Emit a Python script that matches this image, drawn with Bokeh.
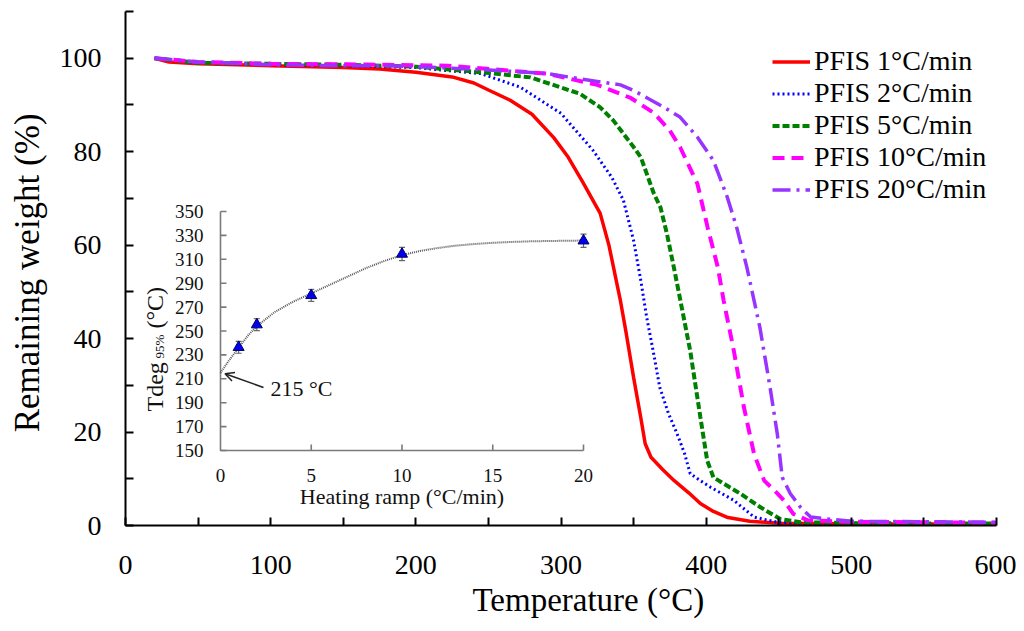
from bokeh.plotting import figure
from bokeh.models import Range1d, FixedTicker, Arrow, OpenHead, Title
from bokeh.core.properties import value
from bokeh.embed import file_html
from bokeh.resources import INLINE

# ---------------- data: main TGA curves ----------------
series_names = ["PFIS 1°C/min", "PFIS 2°C/min", "PFIS 5°C/min", "PFIS 10°C/min", "PFIS 20°C/min"]

temp_1 = [20, 30, 50, 100, 150, 175, 200, 225, 240, 250, 265, 280, 295, 305, 315, 327, 333, 341, 345, 350, 355, 358, 362, 370, 378, 388, 396, 405, 415, 430, 450, 500, 600]
weight_1 = [100, 99.2, 98.8, 98.4, 98.0, 97.7, 97.0, 96.0, 94.7, 93.2, 91.0, 88.0, 83.0, 78.8, 73.5, 66.8, 60.0, 48.0, 41.0, 31.7, 23.0, 17.5, 14.6, 12.0, 9.6, 7.0, 4.7, 3.0, 1.7, 0.9, 0.5, 0.4, 0.3]

temp_2 = [20, 50, 100, 150, 200, 210, 245, 272, 300, 322, 335, 343, 350, 355, 359, 364, 368, 374, 380, 385, 389, 396, 403, 419, 433, 449, 470, 500, 600]
weight_2 = [100, 99.0, 98.6, 98.4, 98.0, 97.7, 96.7, 93.8, 88.2, 80.3, 74.5, 69.6, 61.0, 52.4, 44.6, 36.5, 29.6, 24.0, 19.6, 15.5, 11.1, 9.6, 8.2, 5.4, 1.8, 0.7, 0.5, 0.5, 0.4]

temp_3 = [20, 50, 100, 150, 200, 245, 279, 313, 327, 336, 350, 355, 364, 368.5, 373, 377.7, 380, 389, 396, 400.7, 405, 414, 423.6, 437.4, 451, 465, 500, 600]
weight_3 = [100, 99.0, 98.8, 98.6, 98.2, 97.0, 95.9, 92.4, 89.5, 86.7, 81.0, 78.8, 71.0, 68.1, 62.4, 55.3, 51.7, 37.4, 23.2, 13.9, 10.3, 8.6, 6.8, 3.9, 1.4, 0.7, 0.5, 0.4]

temp_4 = [20, 50, 100, 150, 200, 222, 290, 325, 348, 364, 375, 382, 394, 401, 408, 412, 419, 426, 433, 440, 447, 453.5, 460, 470, 480, 500, 550, 600]
weight_4 = [100, 99.2, 98.8, 98.7, 98.5, 98.4, 96.7, 94.3, 91.5, 88.3, 84.5, 81.0, 73.1, 63.8, 55.3, 48.2, 37.5, 25.3, 15.3, 9.6, 7.5, 5.4, 2.5, 1.1, 1.0, 0.8, 0.7, 0.6]

temp_5 = [20, 50, 100, 150, 176, 200, 250, 291, 313, 341, 350, 371, 382, 394, 405, 414.5, 421, 428, 437, 444, 449, 452.4, 458, 465, 472, 480, 500, 550, 600]
weight_5 = [100, 99.2, 98.6, 98.4, 98.4, 98.2, 97.5, 96.7, 95.6, 94.3, 93.1, 89.5, 87.4, 83.1, 78.1, 70.3, 63.8, 55.3, 42.4, 29.6, 19.6, 10.3, 6.8, 3.9, 1.8, 1.5, 0.9, 0.8, 0.7]

x_ticks = [0, 50, 100, 150, 200, 250, 300, 350, 400, 450, 500, 550, 600]
y_ticks = [0, 10, 20, 30, 40, 50, 60, 70, 80, 90, 100, 110]

# ---------------- data: inset ----------------
ramp = [1, 2, 5, 10, 20]
tdeg95 = [236.4, 255.3, 279.8, 314.4, 325.5]
tdeg95_err = [5, 5, 5, 5.5, 5.5]
trend_ramp = [0, 0.5, 1, 1.5, 2, 3, 4, 5, 6, 7, 8, 9, 10, 11, 12, 13, 14, 15, 16, 17, 18, 19, 20]
trend_tdeg = [215, 226, 236, 246, 254, 266, 274.5, 281.5, 288.5, 295.5, 302.5, 308.5, 313.5, 317, 319.5, 321.5, 322.8, 323.8, 324.5, 325, 325.3, 325.5, 325.7]
inset_x_ticks = [0, 5, 10, 15, 20]
inset_y_ticks = [150, 170, 190, 210, 230, 250, 270, 290, 310, 330, 350]
intercept = 215

# ---------------- layout constants (page pixels) ----------------
FR_L, FR_T, FR_W, FR_H = 125, 11, 871, 514
IN_L, IN_R, IN_T, IN_B = 220, 583, 211, 450

FONT = value("Liberation Serif")

p = figure(frame_width=FR_W, frame_height=FR_H,
           x_range=Range1d(0, 600), y_range=Range1d(0, 110),
           output_backend="svg", toolbar_location=None,
           min_border_left=FR_L, min_border_top=FR_T,
           min_border_right=20, min_border_bottom=0)
p.background_fill_color = "white"
p.border_fill_color = "white"
p.outline_line_color = None
p.xgrid.visible = False
p.ygrid.visible = False

# inset coordinate system mapped onto the same frame
sx = (IN_R - IN_L) / (inset_x_ticks[-1] - inset_x_ticks[0])
sy = (IN_B - IN_T) / (inset_y_ticks[-1] - inset_y_ticks[0])
ix0 = inset_x_ticks[0] - (IN_L - FR_L) / sx
iy0 = inset_y_ticks[0] - (FR_T + FR_H - IN_B) / sy
p.extra_x_ranges = {"ix": Range1d(ix0, ix0 + FR_W / sx)}
p.extra_y_ranges = {"iy": Range1d(iy0, iy0 + FR_H / sy)}


def IX(px):
    return ix0 + (px - FR_L) / sx


def IY(py):
    return iy0 + (FR_T + FR_H - py) / sy


# ---------------- main curves ----------------
styles = [
    dict(color="#FF0000", width=3.5, dash="solid"),
    dict(color="#0000FF", width=3, dash="2 3"),
    dict(color="#008000", width=4, dash="7 3"),
    dict(color="#FF00FF", width=4, dash="12 7"),
    dict(color="#9933FF", width=3.5, dash="18 6 3 6"),
]
all_t = [temp_1, temp_2, temp_3, temp_4, temp_5]
all_w = [weight_1, weight_2, weight_3, weight_4, weight_5]
for t, w, name, st in zip(all_t, all_w, series_names, styles):
    p.line(t, w, line_color=st["color"], line_width=st["width"], line_dash=st["dash"],
           legend_label=name)

# ---------------- main axes ----------------
for ax in (p.xaxis[0], p.yaxis[0]):
    ax.axis_line_color = "black"
    ax.axis_line_width = 2
    ax.major_tick_line_color = "black"
    ax.major_tick_line_width = 2
    ax.major_tick_in = 8
    ax.major_tick_out = 0
    ax.minor_tick_line_color = None
    ax.major_label_text_font = "Liberation Serif"
    ax.major_label_text_font_size = "28px"
    ax.major_label_text_color = "black"
    ax.axis_label_text_font = "Liberation Serif"
    ax.axis_label_text_font_style = "normal"
    ax.axis_label_text_color = "black"

p.xaxis.ticker = FixedTicker(ticks=x_ticks)
p.xaxis.major_label_overrides = {t: ("" if t % 100 else str(t)) for t in x_ticks}
p.xaxis.major_label_standoff = 30

p.yaxis.ticker = FixedTicker(ticks=y_ticks)
p.yaxis.major_label_overrides = {t: ("" if (t % 20 or t > 100) else str(t)) for t in y_ticks}
p.yaxis.axis_label = "Remaining weight  (%)"
p.yaxis.axis_label_text_font_size = "35px"
p.yaxis.major_label_standoff = 24
p.yaxis.axis_label_standoff = 10

# x-axis title (placed slightly right of centre, as in the original)
p.add_layout(Title(text="Temperature (°C)", align="left", offset=347,
                   text_font="Liberation Serif", text_font_size="33px",
                   text_font_style="normal", text_color="black", standoff=7), "below")

# ---------------- legend ----------------
lg = p.legend[0]
lg.location = (647, 320)
lg.label_text_font = "Liberation Serif"
lg.label_text_font_size = "28px"
lg.label_text_color = "black"
lg.label_height = 31
lg.glyph_height = 31
lg.glyph_width = 38
lg.label_standoff = 4
lg.spacing = 0
lg.padding = 0
lg.margin = 0
lg.border_line_color = None
lg.background_fill_alpha = 0

# ---------------- inset ----------------
R = dict(x_range_name="ix", y_range_name="iy")
AX_GRAY = "#7a7a7a"
p.line([inset_x_ticks[0], inset_x_ticks[0], inset_x_ticks[-1]],
       [inset_y_ticks[-1], inset_y_ticks[0], inset_y_ticks[0]],
       line_color=AX_GRAY, line_width=1.6, **R)
tick_len_px = 6
p.segment(x0=inset_x_ticks[1:], y0=[inset_y_ticks[0]] * 4,
          x1=inset_x_ticks[1:], y1=[inset_y_ticks[0] + tick_len_px / sy] * 4,
          line_color=AX_GRAY, line_width=1.6, **R)
p.segment(x0=[inset_x_ticks[0]] * len(inset_y_ticks), y0=inset_y_ticks,
          x1=[inset_x_ticks[0] + tick_len_px / sx] * len(inset_y_ticks), y1=inset_y_ticks,
          line_color=AX_GRAY, line_width=1.6, **R)

p.text(x=[IX(203)] * len(inset_y_ticks), y=inset_y_ticks, text=[str(v) for v in inset_y_ticks],
       text_font=FONT, text_font_size="19px", text_color="#111111",
       text_align="right", text_baseline="middle", **R)
p.text(x=inset_x_ticks, y=[IY(IN_B + 25)] * len(inset_x_ticks), text=[str(v) for v in inset_x_ticks],
       text_font=FONT, text_font_size="19px", text_color="#111111",
       text_align="center", text_baseline="middle", **R)
p.text(x=[(inset_x_ticks[0] + inset_x_ticks[-1]) / 2], y=[IY(IN_B + 46)], text=["Heating ramp (°C/min)"],
       text_font=FONT, text_font_size="22px", text_color="#111111",
       text_align="center", text_baseline="middle", **R)

# rotated inset y label: Tdeg with subscript 95%
ang = 1.5707963
p.text(x=[IX(154)], y=[IY(411)], text=["Tdeg"], angle=ang, text_font=FONT, text_font_size="24px",
       text_color="#111111", text_align="left", text_baseline="alphabetic", **R)
p.text(x=[IX(159)], y=[IY(358)], text=["95%"], angle=ang, text_font=FONT, text_font_size="13px",
       text_color="#111111", text_align="left", text_baseline="alphabetic", **R)
p.text(x=[IX(154)], y=[IY(328)], text=["(°C)"], angle=ang, text_font=FONT, text_font_size="24px",
       text_color="#111111", text_align="left", text_baseline="alphabetic", **R)

# trend curve
p.line(trend_ramp, trend_tdeg, line_color="#555555", line_width=2, line_dash="1 1", **R)

# error bars
up = [v + e for v, e in zip(tdeg95, tdeg95_err)]
lo = [v - e for v, e in zip(tdeg95, tdeg95_err)]
p.segment(x0=ramp, y0=lo, x1=ramp, y1=up, line_color="#666666", line_width=1.2, **R)
p.scatter(ramp, up, marker="dash", size=6, line_color="#666666", line_width=1.2, **R)
p.scatter(ramp, lo, marker="dash", size=6, line_color="#666666", line_width=1.2, **R)

# data points
p.scatter(ramp, tdeg95, marker="triangle", size=11, fill_color="#0000EE",
          line_color="#000066", line_width=1, **R)

# intercept annotation
p.add_layout(Arrow(end=OpenHead(size=9, line_width=1.5, line_color="#222222"),
                   x_start=IX(263), y_start=IY(387), x_end=0.25, y_end=intercept - 0.8,
                   line_color="#222222", line_width=1.5, **R))
p.text(x=[IX(270)], y=[IY(388)], text=[f"{intercept} °C"], text_font=FONT, text_font_size="22px",
       text_color="#111111", text_align="left", text_baseline="middle", **R)

open("out.html", "w").write(file_html(p, INLINE))
